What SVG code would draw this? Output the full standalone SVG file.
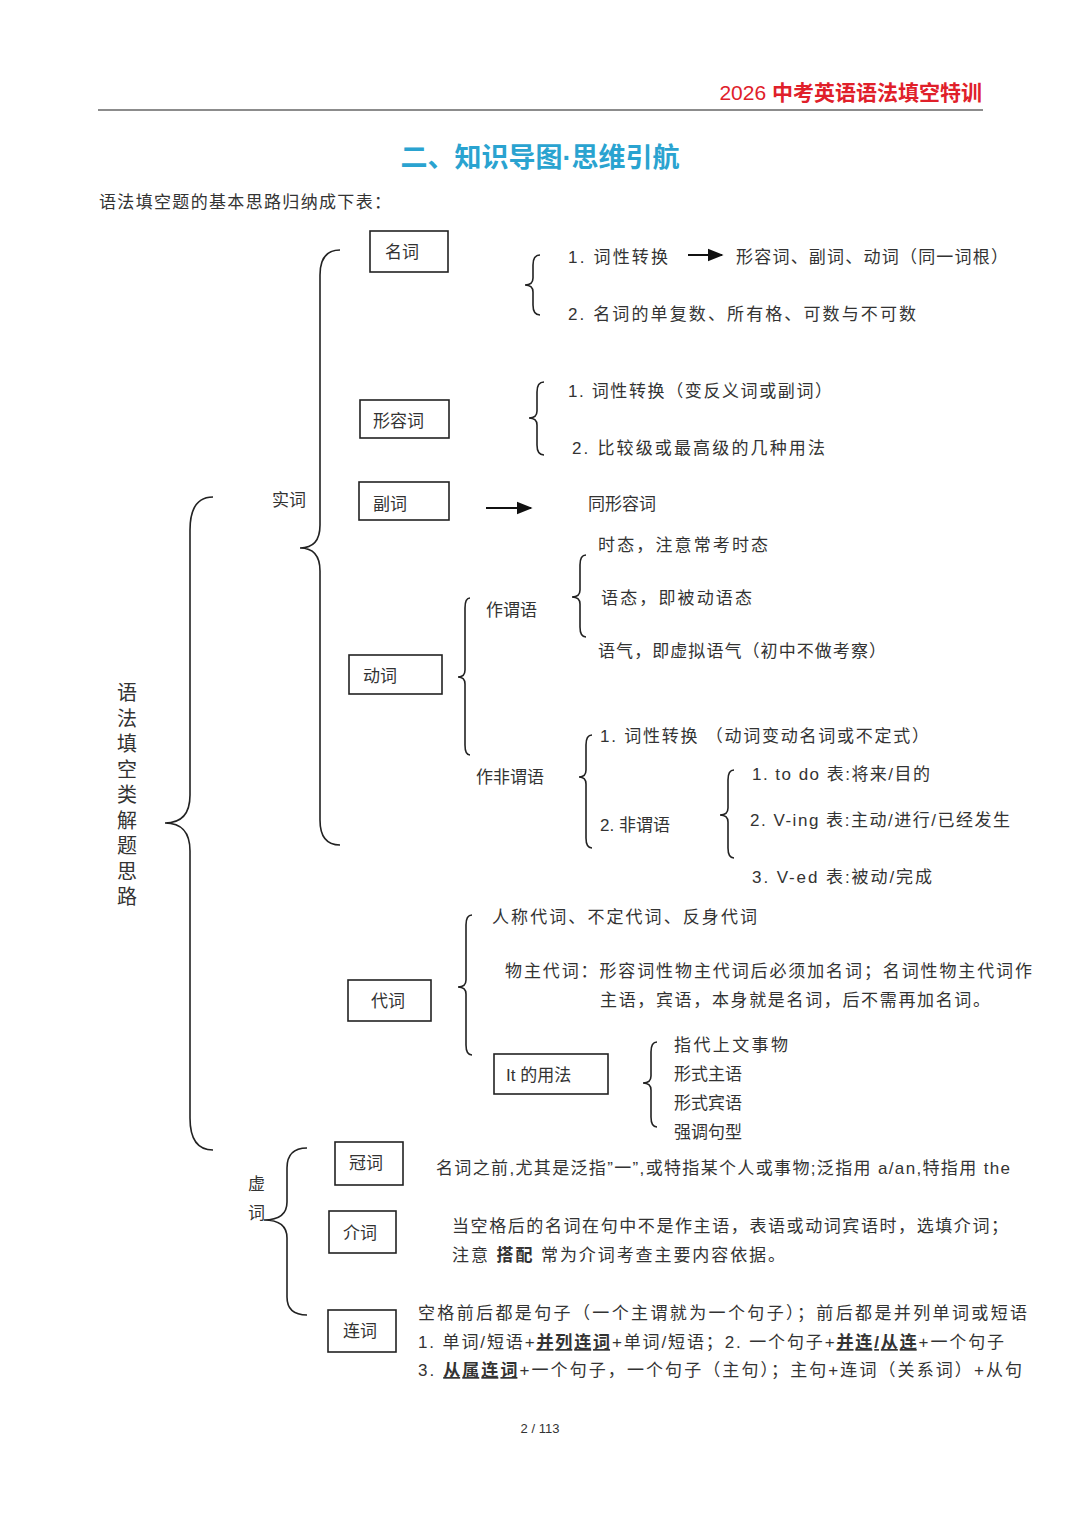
<svg xmlns="http://www.w3.org/2000/svg" width="1080" height="1527" viewBox="0 0 1080 1527">
<style>
text{font-family:"Liberation Sans","Noto Sans CJK SC",sans-serif;font-size:17px;fill:#333}
.b{fill:none;stroke:#222;stroke-width:1.6}
.bx{fill:#fff;stroke:#222;stroke-width:1.6}
.u{text-decoration:underline;font-weight:bold}
</style>
<defs><marker id="ar" viewBox="0 0 10 10" refX="9" refY="5" markerWidth="8" markerHeight="8" orient="auto"><path d="M0,1 L10,5 L0,9z" fill="#111"/></marker></defs>
<rect width="1080" height="1527" fill="#fff"/>
<text x="982" y="100" text-anchor="end" style="font-size:21px;fill:#e0202a">2026 <tspan font-weight="bold">中考英语语法填空特训</tspan></text>
<line x1="98" y1="110" x2="983" y2="110" stroke="#666" stroke-width="1.5"/>
<text x="540" y="167" text-anchor="middle" style="font-size:27px;font-weight:bold;fill:#2aa3d0">二、知识导图·思维引航</text>
<text x="99" y="208" textLength="292" lengthAdjust="spacing">语法填空题的基本思路归纳成下表：</text>
<g id="connectors">
<path class="b" d="M213 497 Q190 497 190 530 L190 795 Q190 823 165 823 Q190 823 190 851 L190 1118 Q190 1150 213 1150"/>
<path class="b" d="M340 250 Q320 250 320 275 L320 525 Q320 548 300 548 Q320 548 320 571 L320 820 Q320 845 340 845"/>
<path class="b" d="M307 1148 Q287 1148 287 1168 L287 1202 Q287 1220 264 1220 Q287 1220 287 1238 L287 1297 Q287 1315 307 1315"/>
<path class="b" d="M540 255 Q533 255 533 265 L533 278 Q533 285 525 285 Q533 285 533 292 L533 305 Q533 315 540 315"/>
<path class="b" d="M544 382 Q537 382 537 392 L537 411 Q537 418 529 418 Q537 418 537 425 L537 445 Q537 455 544 455"/>
<path class="b" d="M586 555 Q580 555 580 565 L580 590 Q580 597 572 597 Q580 597 580 604 L580 627 Q580 637 586 637"/>
<path class="b" d="M470 598 Q465 598 465 608 L465 670 Q465 677 458 677 Q465 677 465 684 L465 745 Q465 755 470 755"/>
<path class="b" d="M592 735 Q586 735 586 745 L586 770 Q586 777 579 777 Q586 777 586 784 L586 838 Q586 848 592 848"/>
<path class="b" d="M734 770 Q728 770 728 780 L728 808 Q728 815 720 815 Q728 815 728 822 L728 848 Q728 858 734 858"/>
<path class="b" d="M472 915 Q466 915 466 925 L466 980 Q466 987 458 987 Q466 987 466 994 L466 1045 Q466 1055 472 1055"/>
<path class="b" d="M657 1042 Q651 1042 651 1052 L651 1076 Q651 1083 643 1083 Q651 1083 651 1090 L651 1117 Q651 1127 657 1127"/>
<line x1="688" y1="255" x2="722" y2="255" stroke="#111" stroke-width="2" marker-end="url(#ar)"/>
<line x1="486" y1="508" x2="531" y2="508" stroke="#111" stroke-width="2" marker-end="url(#ar)"/>
</g>
<g id="root"><text x="127" y="700" text-anchor="middle" style="font-size:20px"><tspan x="127">语</tspan><tspan x="127" dy="25.5">法</tspan><tspan x="127" dy="25.5">填</tspan><tspan x="127" dy="25.5">空</tspan><tspan x="127" dy="25.5">类</tspan><tspan x="127" dy="25.5">解</tspan><tspan x="127" dy="25.5">题</tspan><tspan x="127" dy="25.5">思</tspan><tspan x="127" dy="25.5">路</tspan></text></g>
<g id="shici"><text x="272" y="506">实词</text></g>
<g id="xuci"><text x="248" y="1190">虚</text><text x="248" y="1219">词</text></g>
<g id="mingci"><rect class="bx" x="370" y="231" width="78" height="41"/><text x="385" y="258">名词</text>
<text x="568" y="263" textLength="100" lengthAdjust="spacing">1.  词性转换</text><text x="736" y="263" textLength="272" lengthAdjust="spacing">形容词、副词、动词（同一词根）</text>
<text x="568" y="320" textLength="348" lengthAdjust="spacing">2.  名词的单复数、所有格、可数与不可数</text></g>
<g id="xingrongci"><rect class="bx" x="360" y="400" width="89" height="38"/><text x="373" y="427">形容词</text>
<text x="568" y="397" textLength="264" lengthAdjust="spacing">1.  词性转换（变反义词或副词）</text><text x="572" y="454" textLength="253" lengthAdjust="spacing">2.  比较级或最高级的几种用法</text></g>
<g id="fuci"><rect class="bx" x="359" y="482" width="90" height="38"/><text x="373" y="510">副词</text><text x="588" y="510">同形容词</text></g>
<g id="dongci"><rect class="bx" x="349" y="655" width="93" height="39"/><text x="363" y="682">动词</text>
<text x="486" y="616">作谓语</text><text x="598" y="551" textLength="170" lengthAdjust="spacing">时态，注意常考时态</text><text x="601" y="604" textLength="151" lengthAdjust="spacing">语态，即被动语态</text><text x="598" y="657" textLength="288" lengthAdjust="spacing">语气，即虚拟语气（初中不做考察）</text>
<text x="476" y="783">作非谓语</text><text x="600" y="742" textLength="329" lengthAdjust="spacing">1.  词性转换  （动词变动名词或不定式）</text><text x="600" y="831">2.  非谓语</text>
<text x="752" y="780" textLength="178" lengthAdjust="spacing">1. to do  表:将来/目的</text><text x="750" y="826" textLength="260" lengthAdjust="spacing">2. V-ing  表:主动/进行/已经发生</text><text x="752" y="883" textLength="180" lengthAdjust="spacing">3. V-ed    表:被动/完成</text></g>
<g id="daici"><rect class="bx" x="348" y="980" width="83" height="41"/><text x="371" y="1007">代词</text>
<text x="492" y="923" textLength="265" lengthAdjust="spacing">人称代词、不定代词、反身代词</text>
<text x="505" y="977" textLength="527" lengthAdjust="spacing">物主代词：形容词性物主代词后必须加名词；名词性物主代词作</text>
<text x="600" y="1006" textLength="390" lengthAdjust="spacing">主语，宾语，本身就是名词，后不需再加名词。</text>
<rect class="bx" x="494" y="1054" width="114" height="40"/><text x="506" y="1081">It 的用法</text>
<text x="674" y="1051" textLength="114" lengthAdjust="spacing">指代上文事物</text><text x="674" y="1080">形式主语</text><text x="674" y="1109">形式宾语</text><text x="674" y="1138">强调句型</text></g>
<g id="guanci"><rect class="bx" x="335" y="1142" width="68" height="43"/><text x="349" y="1169">冠词</text>
<text x="436" y="1174" textLength="574" lengthAdjust="spacing">名词之前,尤其是泛指”一”,或特指某个人或事物;泛指用 a/an,特指用 the</text></g>
<g id="jieci"><rect class="bx" x="329" y="1211" width="67" height="42"/><text x="343" y="1239">介词</text>
<text x="452" y="1232" textLength="556" lengthAdjust="spacing">当空格后的名词在句中不是作主语，表语或动词宾语时，选填介词；</text>
<text x="452" y="1261" textLength="333" lengthAdjust="spacing">注意  <tspan font-weight="bold">搭配</tspan>  常为介词考查主要内容依据。</text></g>
<g id="lianci"><rect class="bx" x="328" y="1310" width="68" height="42"/><text x="343" y="1337">连词</text>
<text x="418" y="1319" textLength="609" lengthAdjust="spacing">空格前后都是句子（一个主谓就为一个句子）；前后都是并列单词或短语</text>
<text x="418" y="1348" textLength="586" lengthAdjust="spacing">1.  单词/短语+<tspan class="u">并列连词</tspan>+单词/短语；2.  一个句子+<tspan class="u">并连/从连</tspan>+一个句子</text>
<text x="418" y="1376" textLength="604" lengthAdjust="spacing">3.  <tspan class="u">从属连词</tspan>+一个句子，一个句子（主句）；主句+连词（关系词）+从句</text></g>
<text x="540" y="1433" text-anchor="middle" style="font-size:13px">2 / 113</text>
</svg>
